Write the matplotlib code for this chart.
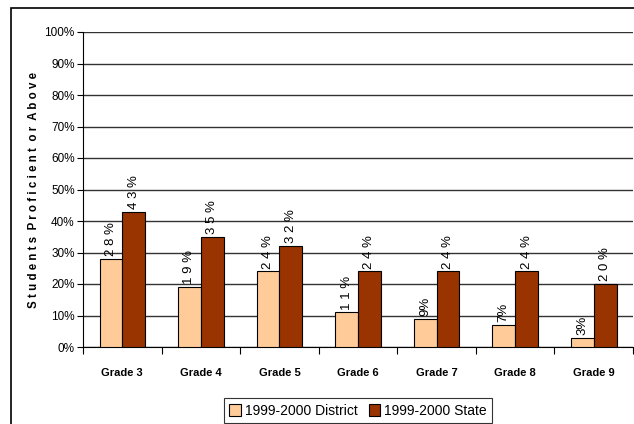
import matplotlib.pyplot as plt
import matplotlib.patches as patches
import numpy as np

grades = ["Grade 3", "Grade 4", "Grade 5", "Grade 6", "Grade 7", "Grade 8", "Grade 9"]
district = [28, 19, 24, 11, 9, 7, 3]
state = [43, 35, 32, 24, 24, 24, 20]
yticks = list(range(0, 101, 10))

plt.rcParams['font.family'] = ['Liberation Sans', 'DejaVu Sans']

fig = plt.figure(figsize=(6.34, 4.24), dpi=100)
ax = fig.add_axes([83/634, 1-347/424, 550/634, 315/424])

# outer chart frame
fig.patches.append(patches.Rectangle((11/634, -0.1), 2, 1.1 - 8/424, transform=fig.transFigure,
                                     fill=False, edgecolor='black', linewidth=1.2))

x = np.arange(len(grades))
w = 0.29
b1 = ax.bar(x - w/2, district, w, color='#FFCC99', edgecolor='black', linewidth=0.8, zorder=3,
            label='1999-2000 District')
b2 = ax.bar(x + w/2, state, w, color='#993300', edgecolor='black', linewidth=0.8, zorder=3,
            label='1999-2000 State')


def spaced(v):
    # two-digit values are drawn with loose letter spacing
    return " ".join(f"{v}%") if v >= 10 else f"{v}%"


for bars, vals in ((b1, district), (b2, state)):
    for r, v in zip(bars, vals):
        ax.annotate(spaced(v), (r.get_x() + r.get_width()/2, v), xytext=(0, 2),
                    textcoords='offset points', rotation=90, ha='center', va='bottom',
                    fontsize=9.5)

ax.set_xlim(-0.5, len(grades) - 0.5)
ax.set_ylim(0, 100)
ax.set_yticks(yticks)
ax.set_yticklabels([f"{t}%" for t in yticks], fontsize=8.5)
ax.yaxis.grid(True, color='#333333', linewidth=1.0, zorder=0)
ax.tick_params(axis='y', length=4, width=0.8, pad=2)

ax.set_xticks(x)
ax.set_xticklabels(grades, fontsize=8, fontweight='bold')
ax.set_xticks(np.arange(-0.5, len(grades), 1), minor=True)
ax.tick_params(axis='x', which='major', length=0, pad=15)
ax.tick_params(axis='x', which='minor', length=5, width=0.8)

for s in ('top', 'right'):
    ax.spines[s].set_visible(False)
ax.spines['left'].set_color('black')
ax.spines['bottom'].set_color('black')

ax.set_ylabel("S t u d e n t s  P r o f i c i e n t  o r  A b o v e",
              fontsize=8.3, fontweight='bold', labelpad=3)

leg = ax.legend(loc='upper center', bbox_to_anchor=(0.5, -0.14), ncol=2, fontsize=10,
                frameon=True, fancybox=False, edgecolor='black', handlelength=0.8,
                handleheight=0.9, handletextpad=0.3, columnspacing=0.8,
                borderpad=0.4)
leg.get_frame().set_linewidth(0.8)

fig.savefig("out.png", dpi=100)
